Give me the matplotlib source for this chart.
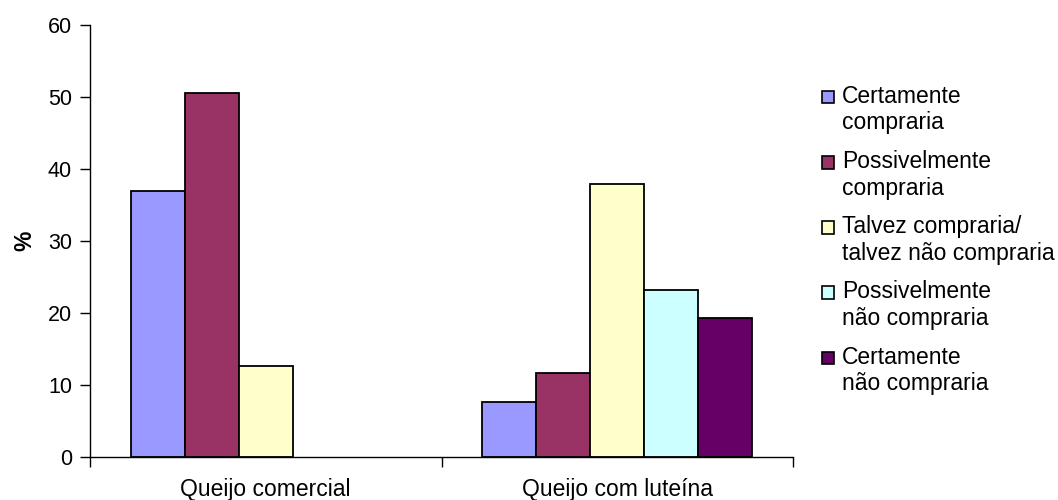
import numpy as np
import matplotlib
matplotlib.use("Agg")
import matplotlib.pyplot as plt
from matplotlib.patches import Rectangle

plt.rcParams['font.family'] = ['Liberation Sans', 'DejaVu Sans']

categories = ['Queijo comercial', 'Queijo com luteína']
series = ['Certamente\ncompraria', 'Possivelmente\ncompraria',
          'Talvez compraria/\ntalvez não compraria',
          'Possivelmente\nnão compraria', 'Certamente\nnão compraria']
values = [
    [36.9, 7.7],
    [50.5, 11.6],
    [12.6, 37.9],
    [0.0, 23.2],
    [0.0, 19.3],
]
colors = ['#9999FF', '#993366', '#FFFFCC', '#CCFFFF', '#660066']

W, H = 1058, 500
fig = plt.figure(figsize=(W / 100, H / 100), dpi=100)
ax = fig.add_axes([90 / W, 1 - 457 / H, 703 / W, 432 / H])

n = len(series)
width = 1.0 / (n + 1.5)
x = np.arange(len(categories))
for i, (vals, c) in enumerate(zip(values, colors)):
    offs = (i - (n - 1) / 2) * width
    bars = ax.bar(x + offs, vals, width, color=c, edgecolor='black', linewidth=1.3)
    # empty categories draw nothing
    for b, v in zip(bars, vals):
        if v == 0:
            b.set_visible(False)

ax.set_xlim(-0.5, len(categories) - 0.5)
ax.set_ylim(0, 60)
ax.set_yticks(range(0, 61, 10))
ax.set_xticks(x)
ax.set_xticklabels(categories)
ax.set_xticks(np.arange(-0.5, len(categories)), minor=True)
ax.tick_params(axis='x', which='major', length=0, pad=15, labelsize=16.5)
ax.tick_params(axis='x', which='minor', length=7, width=1, direction='out')
ax.tick_params(axis='y', length=7, width=1, direction='out', pad=6, labelsize=15.5)
for s in ['top', 'right']:
    ax.spines[s].set_visible(False)
ax.spines['left'].set_linewidth(1)
ax.spines['bottom'].set_linewidth(1)

ax.set_ylabel('%', fontsize=16.5, fontweight='bold', labelpad=8)

# legend: square beside the first line of each two-line label
base0, step, gap = 103.3, 65.2, 26
for i, (name, c) in enumerate(zip(series, colors)):
    yb = base0 + i * step
    fig.patches.append(Rectangle((822 / W, 1 - yb / H), 12 / W, 12.5 / H,
                                 transform=fig.transFigure, facecolor=c,
                                 edgecolor='black', linewidth=1.2))
    fig.text(842 / W, 1 - (yb + gap) / H, name, fontsize=16.5,
             va='baseline', ha='left', linespacing=1.2)

fig.savefig('out.png', dpi=100)
